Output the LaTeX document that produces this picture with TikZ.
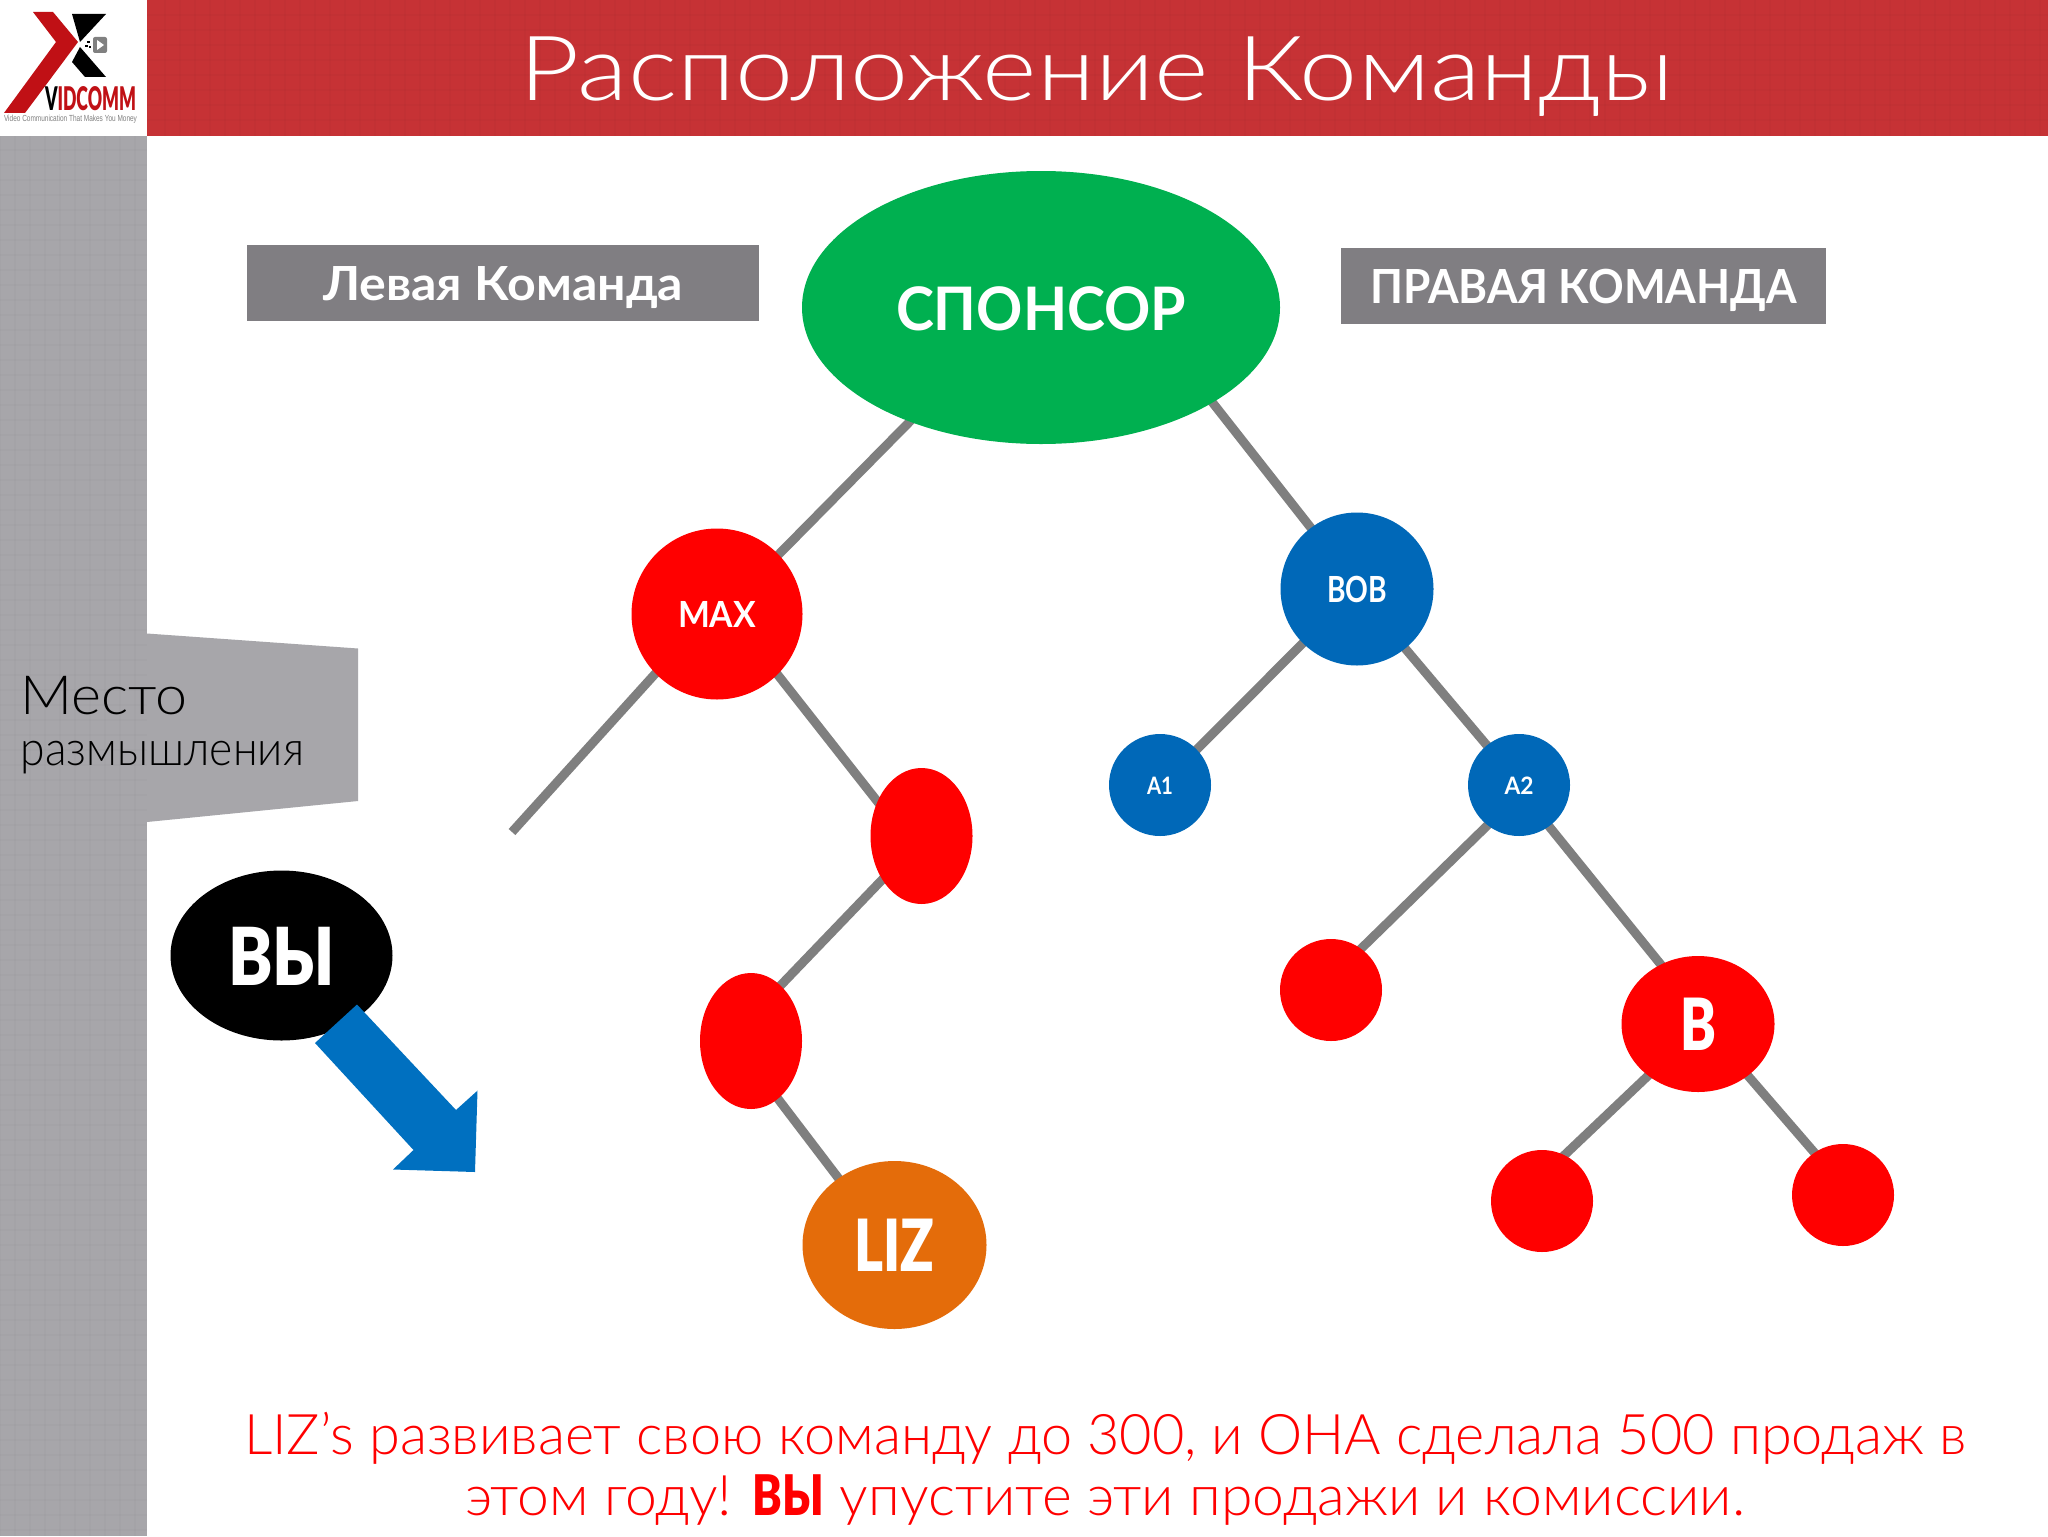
\documentclass[tikz,border=0pt]{standalone}
\usepackage{fontspec}
\setmainfont{Lato}
\newfontfamily\lightf{Lato Light}
\newfontfamily\heavyf{Lato Black}
\newfontfamily\logof{Liberation Sans}
\usetikzlibrary{shapes.geometric}
\pgfdeclarelayer{paper}
\pgfdeclarelayer{edgelayer}
\pgfsetlayers{paper,edgelayer,main}
\definecolor{hdrred}{HTML}{C63235}
\definecolor{colgrey}{HTML}{A7A6AA}
\definecolor{boxgrey}{HTML}{807E82}
\definecolor{linegrey}{HTML}{7F7F7F}
\definecolor{spgreen}{HTML}{00B050}
\definecolor{bobblue}{HTML}{0068B8}
\definecolor{arrowblue}{HTML}{0070C0}
\definecolor{lizorange}{HTML}{E46C0A}
\definecolor{logored}{HTML}{C01015}
\newcommand\wx[2]{\resizebox{#1}{\height}{#2}}
\tikzset{
  x=0.5pt,y=-0.5pt,
  ball/.style={ellipse,inner sep=0pt,outer sep=0pt,text=white,text depth=0pt,font=\bfseries},
  redball/.style={ball,fill=red,minimum width=51pt,minimum height=51pt},
  redtall/.style={ball,fill=red,minimum width=51pt,minimum height=68pt},
  blueball/.style={ball,fill=bobblue},
  labelbox/.style={rectangle,fill=boxgrey,text=white,inner sep=0pt,outer sep=0pt,text depth=0pt,font=\fontsize{23.5}{28}\bfseries},
  plain/.style={anchor=base west,inner sep=0pt,outer sep=0pt},
  treeline/.style={draw=linegrey,line width=4.5pt,shorten <=-2pt,shorten >=-2pt},
  freeline/.style={draw=linegrey,line width=4.5pt,shorten <=-2pt},
  gridline/.style={draw=black,opacity=0.014,line width=0.8pt}
}
\begin{document}
\begin{tikzpicture}
\useasboundingbox (0,0) rectangle (2048,1536);
\begin{pgfonlayer}{paper}
\fill[white] (0,0) rectangle (2048,1536);
\end{pgfonlayer}
% header and side column
\fill[hdrred] (147,0) rectangle (2048,136);
\fill[colgrey] (0,136) rectangle (147,1536);
\fill[colgrey] (147,633.5) -- (358,648.5) -- (358,801) -- (147,822) -- cycle;
\foreach \gx in {0,15,...,135} {\draw[gridline] (\gx,136) -- (\gx,1536);}
\foreach \gy in {150,165,...,1530} {\draw[gridline] (0,\gy) -- (147,\gy);}
\foreach \gx in {165,180,...,2040} {\draw[gridline] (\gx,0) -- (\gx,136);}
\foreach \gy in {15,30,...,130} {\draw[gridline] (147,\gy) -- (2048,\gy);}
% logo
\fill[logored] (33,12) -- (53,12) -- (78,42) -- (25,113) -- (4,113) -- (56,42) -- cycle;
\fill[black] (72,14) -- (106,14) -- (80,42) -- cycle;
\fill[black] (80,47) -- (106,77) -- (85,77) -- (72,62) -- cycle;
\fill[gray,rounded corners=1pt] (93,37) rectangle (107,53);
\fill[white] (97,40) -- (104,45) -- (97,50) -- cycle;
\fill[black] (87,41) rectangle (90,43.5);
\fill[black] (85,45) rectangle (88,47.5);
\fill[black] (89,46) rectangle (91,48);
\node[plain] (logoname) at (45,110.5) {\resizebox{45.5pt}{12pt}{\heavyf\textcolor{black}{V}\textcolor{logored}{IDCOMM}}};
\node[plain] (logotag) at (4,122) {\resizebox{66.5pt}{3.2pt}{\logof\color{gray}Video Communication That Makes You Money}};
% title
\node[plain,text=white] (title) at (519,100) {\wx{577pt}{\lightf\fontsize{45}{54}\selectfont Расположение Команды}};
% label boxes
\node[labelbox,minimum width=256pt,minimum height=38pt] (leftbox) at (503,283) {\raisebox{-1pt}{\wx{180pt}{Левая Команда}}};
\node[labelbox,minimum width=242.5pt,minimum height=38pt] (rightbox) at (1583.5,286) {\wx{213.5pt}{ПРАВАЯ КОМАНДА}};
% tree nodes
\node[ball,fill=spgreen,minimum width=239pt,minimum height=136.5pt,font=\fontsize{30}{36}\bfseries] (sp) at (1041,307.5) {\raisebox{-0.6pt}{\wx{145pt}{СПОНСОР}}};
\node[ball,fill=red,minimum width=85.5pt,minimum height=85.5pt,font=\fontsize{18}{22}\bfseries] (max) at (717,614) {\raisebox{-0.4pt}{\wx{39pt}{MAX}}};
\node[blueball,minimum width=76.5pt,minimum height=76.5pt,font=\fontsize{18}{22}\bfseries] (bob) at (1357,589) {\wx{30pt}{BOB}};
\node[blueball,minimum width=51pt,minimum height=51pt,font=\fontsize{12}{14}\bfseries] (aone) at (1160,785) {\raisebox{-0.4pt}{\wx{13pt}{A1}}};
\node[blueball,minimum width=51pt,minimum height=51pt,font=\fontsize{12}{14}\bfseries] (atwo) at (1519,785) {\raisebox{-0.4pt}{\wx{14.5pt}{A2}}};
\node[redtall] (rone) at (921.5,836) {};
\node[redtall] (rtwo) at (751,1041) {};
\node[ball,fill=lizorange,minimum width=92pt,minimum height=84pt,font=\fontsize{36}{42}\heavyf] (liz) at (894.5,1245) {\wx{40pt}{LIZ}};
\node[redball] (rthree) at (1331,990) {};
\node[ball,fill=red,minimum width=76.5pt,minimum height=68pt,font=\fontsize{36}{42}\heavyf] (bnode) at (1698,1024) {\wx{18pt}{B}};
\node[redball] (rfour) at (1542,1201) {};
\node[redball] (rfive) at (1843,1195) {};
\node[ball,fill=black,minimum width=111pt,minimum height=85pt,font=\fontsize{40}{48}\heavyf] (you) at (281.5,955.5) {\raisebox{-0.8pt}{\wx{53.5pt}{ВЫ}}};
\coordinate (freeend) at (512,832);
% connectors
\begin{pgfonlayer}{edgelayer}
\draw[treeline] (sp.221) -- (max.44.4);
\draw[treeline] (sp.-29.8) -- (bob.127.3);
\draw[freeline] (max.224.4) -- (freeend);
\draw[treeline] (max.-45) -- (rone.142.9);
\draw[treeline] (rone.228) -- (rtwo.62.4);
\draw[treeline] (rtwo.-65) -- (liz.130);
\draw[treeline] (bob.225.7) -- (aone.44);
\draw[treeline] (bob.-51) -- (atwo.129.4);
\draw[treeline] (atwo.232.8) -- (rthree.54.6);
\draw[treeline] (atwo.-54.6) -- (bnode.122.5);
\draw[treeline] (bnode.226.5) -- (rfour.64);
\draw[treeline] (bnode.-46.5) -- (rfive.124.5);
\end{pgfonlayer}
% blue arrow
\fill[arrowblue] (357,1004.5) -- (456,1110) -- (477.5,1090.6) -- (475,1172) -- (393,1169.5) -- (413.5,1150) -- (315,1043) -- cycle;
% side text
\node[plain,text=black] (mesto) at (20,714) {\wx{83.5pt}{\lightf\fontsize{27}{32}\selectfont Место}};
\node[plain,text=black] (razm) at (21,765) {\wx{141.5pt}{\lightf\fontsize{24}{28}\selectfont размышления}};
% bottom text
\node[plain,text=red] (lineone) at (244,1454) {\wx{861pt}{\lightf\fontsize{28}{34}\selectfont LIZ’s развивает свою команду до 300, и ОНА сделала 500 продаж в}};
\node[plain,text=red] (linetwo) at (465,1515) {\wx{640pt}{\lightf\fontsize{28}{34}\selectfont этом году! \resizebox{0.78\width}{\height}{\heavyf ВЫ} упустите эти продажи и комиссии.}};
\end{tikzpicture}
\end{document}
